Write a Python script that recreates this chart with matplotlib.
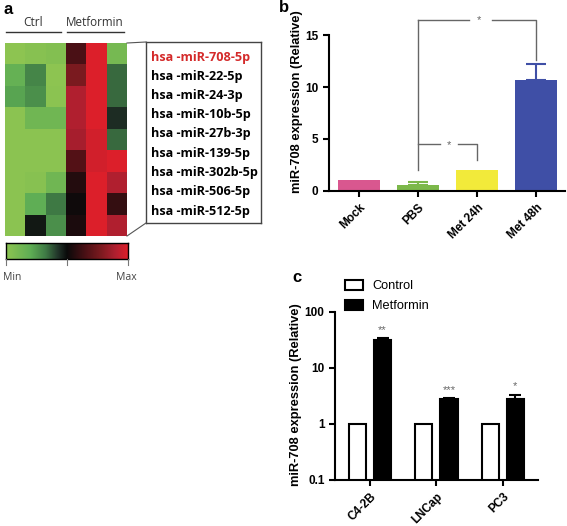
import matplotlib
matplotlib.use('Agg')
import matplotlib.pyplot as plt
import numpy as np
from matplotlib.colors import LinearSegmentedColormap

plt.rcParams['font.family'] = ['Liberation Sans', 'DejaVu Sans']

# ---- data ----
heat_cols = ['Ctrl', 'Ctrl', 'Ctrl', 'Metformin', 'Metformin', 'Metformin']
mirnas = ['hsa -miR-708-5p', 'hsa -miR-22-5p', 'hsa -miR-24-3p', 'hsa -miR-10b-5p',
          'hsa -miR-27b-3p', 'hsa -miR-139-5p', 'hsa -miR-302b-5p', 'hsa -miR-506-5p',
          'hsa -miR-512-5p']
# relative level, -1 = min (green), 0 = mid (black), 1 = max (red)
heat_values = [
    [-1.00, -0.95, -0.92, 0.30, 1.00, -0.80],
    [-0.65, -0.40, -1.00, 0.55, 1.00, -0.30],
    [-0.55, -0.45, -0.98, 0.80, 1.00, -0.30],
    [-0.98, -0.75, -0.75, 0.80, 1.00, -0.12],
    [-0.98, -0.98, -0.98, 0.75, 0.95, -0.30],
    [-0.98, -0.98, -0.98, 0.35, 0.95, 1.00],
    [-0.98, -0.95, -0.75, 0.12, 1.00, 0.80],
    [-0.98, -0.60, -0.35, 0.03, 1.00, 0.20],
    [-0.98, -0.05, -0.45, 0.08, 1.00, 0.80],
]

b_groups = ['Mock', 'PBS', 'Met 24h', 'Met 48h']
b_values = [1.09, 0.62, 2.05, 10.67]
b_errors = [0.0, 0.21, 0.0, 1.53]
b_colors = ['#d9578f', '#7cb84a', '#f2ea3a', '#3f4fa6']

c_lines = ['C4-2B', 'LNCap', 'PC3']
c_control = [1.0, 1.0, 1.0]
c_metformin = [31.0, 2.85, 2.85]
c_met_err = [3.0, 0.08, 0.38]
c_stars = ['**', '***', '*']
c_star_y = [48, 4.1, 4.7]

W, H = 567, 526
def box(l, t, r, b):
    return [l / W, 1 - b / H, (r - l) / W, (b - t) / H]

fig = plt.figure(figsize=(W / 100, H / 100), dpi=100)

# overlay axes in pixel coordinates for annotations
ov = fig.add_axes([0, 0, 1, 1], zorder=10)
ov.set_xlim(0, W)
ov.set_ylim(H, 0)
ov.axis('off')

# ---- panel a ----
cmap = LinearSegmentedColormap.from_list('gkr', [
    (0.0, '#8dc451'), (0.2, '#5fae55'), (0.325, '#3f7a45'), (0.425, '#22352a'),
    (0.5, '#0a0a0a'), (0.65, '#4a1015'), (0.775, '#7a1a1f'), (0.9, '#b02030'),
    (1.0, '#dc1f2a')])
ax_h = fig.add_axes(box(5, 43, 127, 236))
ax_h.imshow(np.array(heat_values), cmap=cmap, vmin=-1, vmax=1, aspect='auto',
            interpolation='nearest')
ax_h.axis('off')

hc = '#333333'
ov.text(33, 22, 'Ctrl', ha='center', va='center', fontsize=8.6, color=hc, family='Open Sans')
ov.text(95, 22, 'Metformin', ha='center', va='center', fontsize=8.4, color=hc, family='Open Sans')
ov.plot([6, 61], [32, 32], color=hc, lw=1)
ov.plot([67, 124], [32, 32], color=hc, lw=1)

ax_l = fig.add_axes(box(146, 42, 261, 223))
ax_l.set_xticks([])
ax_l.set_yticks([])
for s in ax_l.spines.values():
    s.set_color('#444444')
    s.set_linewidth(1)
for i, name in enumerate(mirnas):
    ov.text(151, 57 + 19.25 * i, name, ha='left', va='center', fontsize=9.1,
            fontweight='bold', family='Open Sans',
            color='#d42a2a' if i == 0 else 'black')
ov.plot([127, 146], [43, 42], color='#555555', lw=0.8)
ov.plot([127, 146], [236, 223], color='#555555', lw=0.8)

ax_cb = fig.add_axes(box(6, 243, 128, 259))
ax_cb.imshow(np.linspace(-1, 1, 256)[None, :], cmap=cmap, aspect='auto')
ax_cb.set_xticks([])
ax_cb.set_yticks([])
for s in ax_cb.spines.values():
    s.set_linewidth(1)
for x in (6, 67, 128):
    ov.plot([x, x], [259, 265], color='#777777', lw=0.8)
ov.text(3, 277, 'Min', ha='left', va='center', fontsize=7.5, color='#444444', family='Open Sans')
ov.text(137, 277, 'Max', ha='right', va='center', fontsize=7.5, color='#444444', family='Open Sans')

# ---- panel b ----
ax_b = fig.add_axes(box(329, 35, 565, 191))
xb = np.arange(len(b_groups))
ax_b.bar(xb, b_values, width=0.7, color=b_colors)
for x, v, e, c in zip(xb, b_values, b_errors, b_colors):
    if e > 0:
        ax_b.errorbar(x, v, yerr=[[0], [e]], color=c, capsize=7, capthick=1.5, elinewidth=1.5)
ax_b.set_xlim(-0.51, 3.49)
ax_b.set_ylim(0, 15)
ax_b.set_yticks([0, 5, 10, 15])
ax_b.set_xticks(xb)
ax_b.set_xticklabels(b_groups, rotation=45, ha='right', rotation_mode='anchor')
ax_b.set_ylabel('miR-708 expression (Relative)', fontweight='bold', fontsize=9.3, va='center')
ax_b.yaxis.set_label_coords(-0.136, 0.57)

gc = '#666666'
kw = dict(color=gc, lw=1, clip_on=False)
ax_b.plot([1, 1], [2.05, 16.4], **kw)
ax_b.plot([1, 1.86], [16.4, 16.4], **kw)
ax_b.plot([2.25, 3, 3], [16.4, 16.4, 12.6], **kw)
ax_b.text(2.03, 16.4, '*', ha='center', va='center', color=gc, fontsize=8)
ax_b.plot([1, 1.37], [4.5, 4.5], **kw)
ax_b.plot([1.68, 2, 2], [4.5, 4.5, 3.0], **kw)
ax_b.text(1.52, 4.4, '*', ha='center', va='center', color=gc, fontsize=8)

# ---- panel c ----
ax_c = fig.add_axes(box(335, 312, 538, 480))
xc = np.arange(len(c_lines))
bw = 0.26
off = 0.19
ax_c.bar(xc - off, c_control, width=bw, color='white', edgecolor='black', linewidth=1.5,
         label='Control')
ax_c.bar(xc + off, c_metformin, width=bw, color='black', edgecolor='black', linewidth=1.5,
         label='Metformin')
ax_c.errorbar(xc + off, c_metformin, yerr=[np.zeros(3), c_met_err], fmt='none',
              ecolor='black', capsize=4, capthick=1.5, elinewidth=1.5)
for x, s, y in zip(xc, c_stars, c_star_y):
    ax_c.text(x + off, y, s, ha='center', va='center', color=gc, fontsize=8)
ax_c.set_yscale('log')
ax_c.set_ylim(0.1, 100)
ax_c.set_yticks([0.1, 1, 10, 100])
ax_c.set_yticklabels(['0.1', '1', '10', '100'])
ax_c.minorticks_off()
ax_c.set_xlim(-0.526, 2.53)
ax_c.set_xticks(xc)
ax_c.set_xticklabels(c_lines, rotation=45, ha='right', rotation_mode='anchor')
ax_c.set_ylabel('miR-708 expression (Relative)', fontweight='bold', fontsize=9.3, va='center')
ax_c.yaxis.set_label_coords(-0.19, 0.506)
ax_c.legend(loc='upper left', bbox_to_anchor=(345 / W, 1 - 280 / H),
            bbox_transform=fig.transFigure, frameon=False, fontsize=9.2,
            handlelength=1.4, handleheight=0.8, handletextpad=0.75, labelspacing=0.6,
            borderaxespad=0, borderpad=0)

for ax in (ax_b, ax_c):
    ax.spines['top'].set_visible(False)
    ax.spines['right'].set_visible(False)
    ax.spines['left'].set_linewidth(1.5)
    ax.spines['bottom'].set_linewidth(1.5)
    ax.tick_params(width=1.5, length=4, labelsize=8.5)
    for t in ax.get_xticklabels() + ax.get_yticklabels():
        t.set_fontweight('bold')

ov.text(3, 9, 'a', ha='left', va='center', fontsize=12, fontweight='bold')
ov.text(279, 8, 'b', ha='left', va='center', fontsize=12, fontweight='bold')
ov.text(292, 277, 'c', ha='left', va='center', fontsize=12, fontweight='bold')

fig.savefig('out.png', dpi=100)
